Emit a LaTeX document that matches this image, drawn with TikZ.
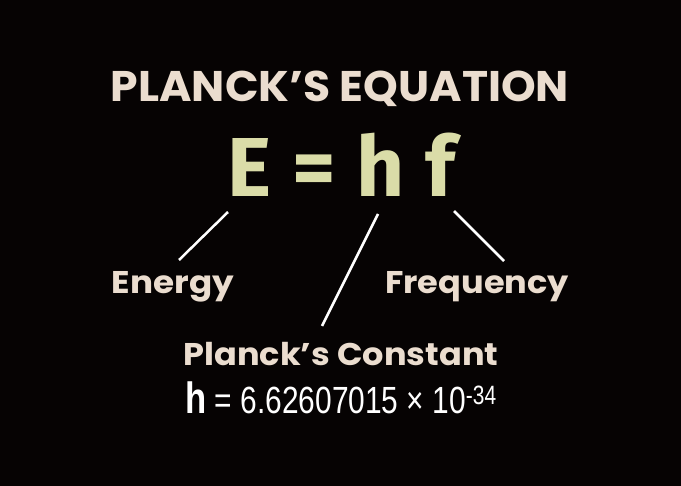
\documentclass[tikz,border=0pt]{standalone}
\usepackage{fontspec}
\setmainfont{Poppins}
\newfontfamily\eqfont{Fira Sans}
\newfontfamily\numfont{Liberation Sans}
\definecolor{beige}{HTML}{EBDDCF}
\definecolor{pale}{HTML}{DADCA8}
\definecolor{bg}{HTML}{060303}
\begin{document}
\begin{tikzpicture}[x=1bp,y=-1bp,
  title/.style={text=beige,font=\fontsize{43}{43}\selectfont\bfseries,inner sep=0pt,anchor=base},
  eqn/.style={text=pale,font=\fontsize{84}{84}\eqfont\bfseries,inner sep=0pt,anchor=base},
  lbl/.style={text=beige,font=\fontsize{31.5}{31.5}\selectfont\bfseries,inner sep=0pt,anchor=base},
  val/.style={text=white,font=\fontsize{38}{38}\numfont,inner sep=0pt,anchor=base},
  conn/.style={draw=white,line width=2.5bp}]
\fill[bg] (0,0) rectangle (681,486);
\useasboundingbox (0,0) rectangle (681,486);
\node[title] (t) at (340,102) {\scalebox{1.03}[1]{PLANCK’S EQUATION}};
\node[eqn] (E) at (250,197) {E};
\node[eqn] (eq) at (314,197) {=};
\node[eqn] (h) at (381,197) {h};
\node[eqn] (f) at (440,197) {f};
\node[lbl] (en) at (173,293) {\scalebox{1.09}[1]{Energy}};
\node[lbl] (fr) at (477,293) {\scalebox{1.07}[1]{Frequency}};
\node[lbl] (pc) at (341,365) {\scalebox{1.07}[1]{Planck’s Constant}};
\node[val] (v) at (341,413) {\scalebox{0.79}[1]{{\fontsize{44}{44}\selectfont\bfseries h} = 6.62607015 × 10\textsuperscript{-34}}};
\coordinate (a1) at (228,212);
\coordinate (b1) at (179,260);
\coordinate (a2) at (378,214);
\coordinate (b2) at (322,326);
\coordinate (a3) at (454,211);
\coordinate (b3) at (504,261);
\draw[conn] (a1) -- (b1);
\draw[conn] (a2) -- (b2);
\draw[conn] (a3) -- (b3);
\end{tikzpicture}
\end{document}
